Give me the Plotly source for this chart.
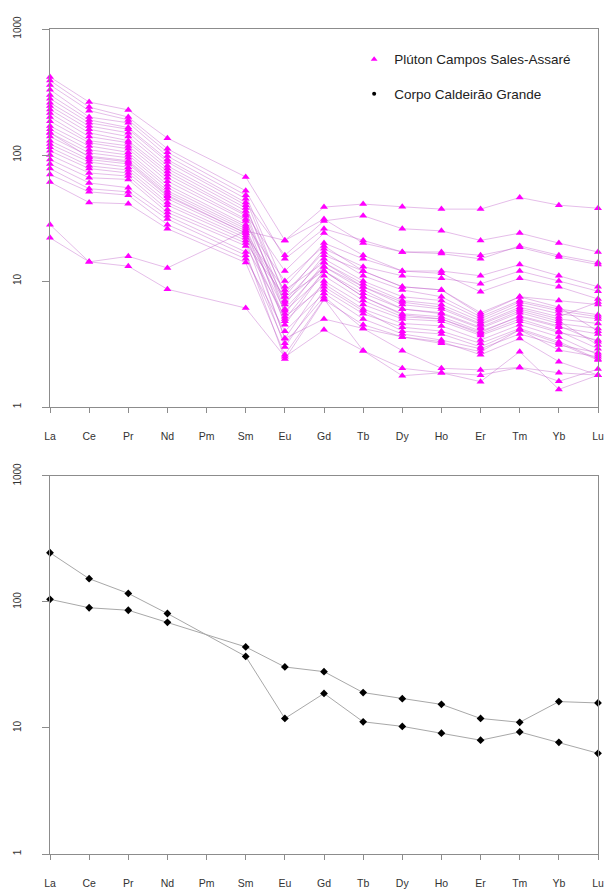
import plotly.graph_objects as go

# Chondrite-normalised REE patterns (Pm not analysed)
elements = ["La", "Ce", "Pr", "Nd", "Pm", "Sm", "Eu", "Gd", "Tb", "Dy", "Ho", "Er", "Tm", "Yb", "Lu"]
x_pos = list(range(len(elements)))

# Plúton Campos Sales-Assaré samples, one list per sample (La ... Lu)
pluton_samples = [
    [416, 263, 228, 136, None, 67, 21, 31, 20, 17, 16.5, 15, 19, 16, 14],
    [390, 240, 200, 112, None, 52, 15, 26, 21, 17, 17, 16, 18.5, 15.5, 13.5],
    [360, 225, 190, 105, None, 48, 9, 20, 15, 12, 12, 11, 13.5, 11, 9],
    [330, 200, 180, 98, None, 45, 7.5, 18, 13, 11, 10.5, 9.5, 12, 10, 8.3],
    [300, 190, 165, 92, None, 42, 16, 30, 33, 26, 25, 21, 24, 20, 17],
    [280, 180, 160, 88, None, 40, 6.5, 16, 12, 9, 8.5, 5.4, 7.5, 7, 6.5],
    [260, 170, 150, 82, None, 38, 8, 17, 11, 8.5, 7.5, 5.2, 7, 6, 5.4],
    [245, 160, 140, 78, None, 36, 5.5, 14, 9.5, 7, 6.5, 4.8, 6.5, 5.5, 5],
    [230, 150, 130, 74, None, 34, 12, 24, 16, 12, 11.5, 8.2, 10.5, 9, 7.2],
    [215, 140, 125, 70, None, 33, 6, 13, 9, 6.5, 6, 4.5, 6, 5, 4.6],
    [200, 130, 118, 66, None, 31, 4.5, 12, 8, 6, 5.5, 4.2, 5.6, 4.6, 4.2],
    [185, 125, 112, 62, None, 30, 7, 15, 10, 7.5, 7, 5, 6.8, 5.8, 5.2],
    [170, 118, 105, 58, None, 28, 10, 19, 12, 9, 8.5, 5.6, 7.5, 6.2, 4],
    [160, 110, 100, 55, None, 27, 5, 12, 7.5, 5.5, 5.2, 4, 5.2, 4.3, 3.8],
    [150, 104, 95, 52, None, 26, 3.5, 10, 6.5, 5, 4.8, 3.7, 4.8, 3.9, 3.4],
    [140, 98, 90, 50, None, 25, 6.8, 13, 8.5, 6, 5.6, 4.3, 5.8, 4.8, 3.1],
    [130, 92, 85, 47, None, 24, 5.8, 11, 7, 5.2, 5, 3.8, 5, 4, 2.9],
    [122, 88, 80, 45, None, 23, 8.5, 14, 9, 6.8, 6.2, 4.6, 6.2, 5.2, 6.8],
    [115, 82, 76, 42, None, 22, 4.8, 9.5, 6, 4.6, 4.4, 3.4, 4.5, 3.6, 2.6],
    [108, 78, 72, 40, None, 21, 3, 8.5, 5.5, 4.3, 4, 3.2, 4.2, 3.3, 2.4],
    [100, 72, 68, 37, None, 20, 7.5, 12, 7.5, 5.4, 5, 3.9, 5.3, 4.4, 3.3],
    [92, 66, 64, 35, None, 19, 5.2, 9, 5.8, 4, 3.8, 3, 4.1, 3.2, 2.36],
    [85, 60, 55, 33, None, 17, 2.4, 7.1, 4.5, 3.6, 3.2, 2.75, 4.1, 2.83, 2.5],
    [78, 54, 51, 31, None, 16, 3.2, 7.5, 4.2, 3.6, 3.3, 2.6, 3.5, 2.29, 1.79],
    [70, 51, 48, 28, None, 15, 4, 8, 5, 3.8, 3.4, 2.9, 3.8, 3.1, 2.7],
    [61, 42, 41, 26, None, 14, 2.6, 7.2, 2.8, 1.77, 1.87, 1.79, 2.06, 1.87, 1.79],
    [28, 14.2, 15.7, 12.7, None, 25, 21, 38.6, 40.8, 38.8, 37.2, 37.2, 46, 40, 37.8],
    [22, 14.2, 13.1, 8.6, None, 6.1, 2.5, 4.1, 2.8, 2.03, 1.87, 1.59, 2.75, 1.38, 1.79],
    [150, 96, 88, 48, None, 24, 3.5, 5.0, 4.2, 2.8, 2.03, 1.97, 2.06, 1.6, 2.0],
]

# Corpo Caldeirão Grande samples (La ... Lu)
caldeirao_a = [246, 153, 117, 81, None, 37, 11.9, 18.8, 11.2, 10.3, 9.1, 8.0, 9.3, 7.7, 6.3]
caldeirao_b = [105, 90, 86, 69, None, 44, 30.5, 28, 19.1, 17.1, 15.4, 11.9, 11.1, 16.2, 15.8]

legend_labels = ["Plúton Campos Sales-Assaré", "Corpo Caldeirão Grande"]
y_ticks = [1, 10, 100, 1000]

MAGENTA = "#FF00FF"
PINK_LINE = "rgba(190,90,200,0.5)"
AXIS_GREY = "#8c8c8c"
FONT = "Liberation Sans, Arial, sans-serif"

fig = go.Figure()

# upper panel: one polyline per sample, triangle markers
for sample in pluton_samples:
    fig.add_trace(go.Scatter(
        x=x_pos, y=sample, mode="lines+markers", connectgaps=True,
        line=dict(color=PINK_LINE, width=0.8),
        marker=dict(symbol="triangle-up", size=7, color=MAGENTA),
        cliponaxis=False, showlegend=False, hoverinfo="skip",
        xaxis="x", yaxis="y",
    ))

# lower panel: two Caldeirão Grande patterns
for sample in (caldeirao_a, caldeirao_b):
    fig.add_trace(go.Scatter(
        x=x_pos, y=sample, mode="lines+markers", connectgaps=True,
        line=dict(color="#a8a8a8", width=1),
        marker=dict(symbol="diamond", size=6, color="black"),
        cliponaxis=False, showlegend=False, hoverinfo="skip",
        xaxis="x2", yaxis="y2",
    ))

# legend entries (symbol only)
fig.add_trace(go.Scatter(
    x=[None], y=[None], mode="markers", name=legend_labels[0],
    marker=dict(symbol="triangle-up", size=6, color=MAGENTA),
    legendgroup="a", xaxis="x", yaxis="y",
))
fig.add_trace(go.Scatter(
    x=[None], y=[None], mode="markers", name=legend_labels[1],
    marker=dict(symbol="circle", size=4, color="black"),
    legendgroup="b", xaxis="x", yaxis="y",
))

xaxis_style = dict(
    range=[0, 14], tickmode="array", tickvals=x_pos, ticktext=elements,
    showline=True, linecolor=AXIS_GREY, linewidth=1, mirror=True,
    ticks="outside", ticklen=5, tickcolor=AXIS_GREY, automargin=False,
    showgrid=False, zeroline=False, ticklabelstandoff=14,
    tickfont=dict(family=FONT, size=10.5, color="#333333"),
)
yaxis_style = dict(
    type="log", range=[0, 3], tickmode="array", tickvals=y_ticks,
    ticktext=[str(v) for v in y_ticks], tickangle=-90,
    showline=True, linecolor=AXIS_GREY, linewidth=1, mirror=True,
    ticks="outside", ticklen=7, tickcolor=AXIS_GREY, automargin=False,
    showgrid=False, zeroline=False, ticklabelstandoff=17,
    tickfont=dict(family=FONT, size=10, color="#333333"),
)

fig.update_layout(
    width=610, height=893,
    margin=dict(l=50, r=12, t=29, b=39),
    paper_bgcolor="white", plot_bgcolor="white",
    xaxis=dict(domain=[0, 1], anchor="y", **xaxis_style),
    yaxis=dict(domain=[0.5418, 1], anchor="x", **yaxis_style),
    xaxis2=dict(domain=[0, 1], anchor="y2", **xaxis_style),
    yaxis2=dict(domain=[0, 0.4582], anchor="x2", **yaxis_style),
    legend=dict(
        x=0.555, y=0.982, xanchor="left", yanchor="top",
        bgcolor="rgba(0,0,0,0)", traceorder="grouped", tracegroupgap=14,
        font=dict(family=FONT, size=13.5, color="#222222"),
    ),
    font=dict(family=FONT),
)

fig.write_html("out.html")
